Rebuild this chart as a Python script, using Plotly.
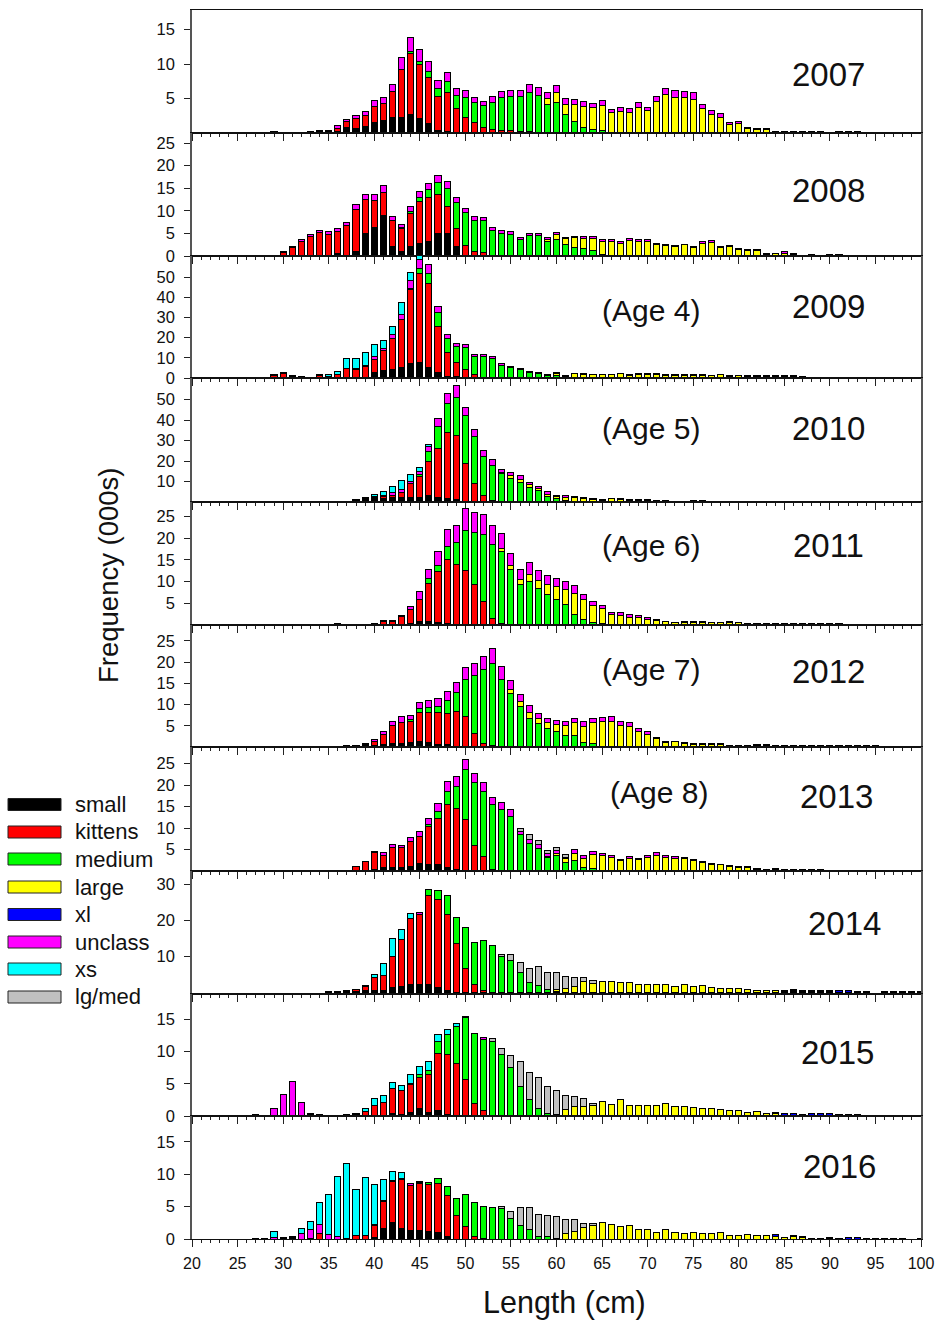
import plotly.graph_objects as go

# Stage names, bottom to top of each stacked bar
SERIES = ["small", "kittens", "medium", "large", "xl", "unclass", "xs", "lg/med"]
COLORS = ["#000000", "#ff0000", "#00ff00", "#ffff00", "#0000ff", "#ff00ff", "#00ffff", "#c0c0c0"]
YEARS = [2007, 2008, 2009, 2010, 2011, 2012, 2013, 2014, 2015, 2016]
AGES = {2009: "(Age 4)", 2010: "(Age 5)", 2011: "(Age 6)", 2012: "(Age 7)", 2013: "(Age 8)"}
X_TICKS = list(range(20, 101, 5))

# Each row: length, then the height read at the top of each stage
# (small, kittens, medium, large, xl, unclass, xs, lg/med); 0 = stage absent.
ROWS_2007 = [
 [29,.2],[31,0,.1],[33,.2],[34,.1,.2,0,0,0,.3],[35,.1,.2,0,0,0,.3],[36,.15,.7,0,0,0,1.05],[37,.75,1.6,0,0,0,2.0],
 [38,.7,2.1,0,0,0,2.55],[39,.9,2.6,0,0,0,3.1],[40,1.5,3.9,0,0,0,4.7],[41,1.75,4.25,0,0,0,5.1],[42,2.2,6.0,0,0,0,7.1],
 [43,2.3,9.2,0,0,0,10.9],[44,2.65,11.45,11.8,0,0,13.9],[45,2.1,9.9,10.4,0,0,12.1],[46,1.35,8.1,8.9,0,0,10.4],
 [47,.3,5.3,6.5,0,0,7.6],[48,.25,5.8,7.5,0,0,8.8],[49,.05,3.6,5.4,0,0,6.4],[50,0,2.2,5.2,0,0,6.1],[51,0,1.5,4.4,0,0,5.2],
 [52,0,.8,4.0,0,0,4.6],[53,0,.5,4.4,0,0,5.3],[54,0,.35,5.1,0,0,6.0],[55,0,.35,5.3,0,0,6.2],[56,0,.15,5.3,0,0,6.2],
 [57,0,.2,5.9,0,0,7.0],[58,0,0,5.4,0,0,6.6],[59,0,0,4.15,5.0,0,5.8],[60,0,0,4.45,5.9,0,6.9],[61,0,0,2.7,4.2,0,5.0],
 [62,0,0,1.65,4.2,0,4.9],[63,0,0,.85,3.8,0,4.5],[64,0,0,.5,3.65,0,4.3],[65,0,0,.35,3.95,0,4.7],[66,0,0,0,2.9,0,3.4],
 [67,0,0,.1,3.05,0,3.65],[68,0,0,0,2.95,0,3.5],[69,0,0,0,3.7,0,4.35],[70,0,0,0,3.2,0,3.75],[71,0,0,0,4.5,0,5.35],
 [72,0,0,0,5.55,0,6.45],[73,0,0,0,5.2,0,6.1],[74,0,0,0,5.1,0,6.0],[75,0,0,0,4.9,0,5.8],[76,0,0,0,3.5,0,4.1],
 [77,0,0,0,2.75,0,3.3],[78,0,0,0,2.3,0,2.8],[79,0,0,0,1.2,0,1.5],[80,0,0,0,1.35,0,1.6],[81,0,0,0,.65,0,.8],
 [82,0,0,0,.45,0,.6],[83,0,0,0,.55,0,.7],[84,0,0,0,.15,0,.25],[85,0,0,0,.15,0,.25],[86,0,0,0,.1,0,.2],[87,0,0,0,.15,0,.25],
 [88,0,0,0,.15,0,.25],[89,0,0,0,.15,0,.25],[91,0,0,0,.1,0,.2],[92,0,0,0,.1,0,.15],[93,0,0,0,.1,0,.15],
]
ROWS_2008 = [
 [30,0,.75,0,0,0,.9],[31,0,1.8,0,0,0,2.05],[32,0,3.3,0,0,0,3.7],[33,0,4.3,0,0,0,4.65],[34,0,5.15,0,0,0,5.6],
 [35,0,4.85,0,0,0,5.4],[36,.5,5.45,0,0,0,6.05],[37,0,6.7,0,0,0,7.4],[38,1.0,10.3,0,0,0,11.3],[39,4.95,12.55,0,0,0,13.7],
 [40,6.35,12.25,0,0,0,13.55],[41,9.0,14.1,0,0,0,15.5],[42,2.15,7.75,0,0,0,8.7],[43,1.0,6.1,6.25,0,0,6.9],
 [44,2.15,9.4,9.9,0,0,10.9],[45,2.8,12.1,13.05,0,0,14.3],[46,3.25,13.05,14.7,0,0,16.1],[47,5.0,13.65,16.2,0,0,17.8],
 [48,5.0,11.0,14.9,0,0,16.4],[49,2.05,6.1,11.9,0,0,13.05],[50,0,2.35,9.6,0,0,10.6],[51,0,.95,7.8,0,0,8.7],[52,0,.75,7.75,0,0,8.6],
 [53,0,0,5.7,0,0,6.4],[54,0,0,4.95,0,0,5.55],[55,0,0,4.8,0,0,5.45],[56,0,0,3.6,0,0,4.05],[57,0,0,4.5,0,0,4.95],
 [58,0,0,4.5,4.6,0,5.0],[59,0,0,3.3,3.7,0,4.0],[60,0,0,3.7,4.65,0,5.3],[61,0,0,2.6,3.85,0,4.2],[62,0,0,1.9,4.0,0,4.35],
 [63,0,0,1.7,3.9,0,4.35],[64,0,0,1.2,3.85,0,4.35],[65,0,0,.35,3.1,0,3.55],[66,0,0,0,3.3,0,3.7],[67,0,0,0,2.8,0,3.1],
 [68,0,0,0,3.4,0,3.85],[69,0,0,0,3.3,0,3.75],[70,0,0,0,3.2,0,3.55],[71,.2,0,0,2.65,0,2.7],[72,0,0,0,2.3,0,2.6],
 [73,0,0,0,2.05,0,2.3],[74,0,0,0,2.45,0,2.65],[75,0,0,0,1.85,0,2.0],[76,0,0,0,2.8,0,3.2],[77,0,0,0,3.0,0,3.4],
 [78,0,0,0,1.9,0,2.1],[79,0,0,0,2.05,0,2.3],[80,0,0,0,1.5,0,1.6],[81,0,0,0,1.25,0,1.4],[82,0,0,0,1.25,0,1.4],
 [83,0,0,0,.4,0,.5],[84,0,0,0,.55,0,.65],[85,0,0,0,.55,0,1.0],[86,0,0,0,.3,0,.65],[88,0,0,0,.1,0,.3],[89,0,0,0,.1,0,.2],
 [90,0,0,0,.1,0,.3],[91,0,0,0,0,.25],[92,0,0,0,.15],[93,0,0,0,.15],[97,0,0,0,0,.2],[100,0,0,0,0,.1],
]
ROWS_2009 = [
 [29,0,1.15,0,0,0,1.7],[30,0,2.15,0,0,0,2.6],[31,0,.5,0,0,0,.8,1.0],[32,0,.2,0,0,0,.5,.8],[33,0,0,0,0,0,0,.4],
 [34,0,1.15,0,0,0,1.8],[35,0,.8,0,0,0,0,1.5],[36,0,1.8,0,0,0,0,3.3],[37,0,4.6,0,0,0,0,9.6],[38,0,4.0,0,0,0,4.6,9.7],
 [39,0,5.9,0,0,0,6.4,12.4],[40,2.8,9.1,9.4,0,0,10.4,16.7],[41,3.8,13.4,0,0,0,14.4,18.5],[42,4.3,19.6,0,0,0,21.3,25.7],
 [43,5.4,28.9,29.2,0,0,31.5,37.3],[44,7.3,43.6,44.2,0,0,48.2,52.3],[45,7.8,51.5,54.3,0,0,58.9,61],[46,5.4,46.9,51.8,0,0,56.4],
 [47,2.5,25.6,32.3,0,0,35.3],[48,.5,12.5,19.6,0,0,21.5],[49,.5,7.8,15.8,0,0,17.3],[50,0,4.0,15.2,0,0,16.5],[51,0,1.8,10.7,0,0,11.7],
 [52,0,.2,10.6,0,0,11.7],[53,0,0,9.7,0,0,10.6],[54,0,0,6.3,0,0,7.1],[55,0,0,5.1,0,0,5.9],[56,0,0,4.0,0,0,4.6],
 [57,0,0,2.6,0,0,3.1],[58,0,0,2.1,0,0,2.5],[59,0,0,1.3,1.65,0,1.8],[60,0,0,1.15,2.0,0,2.6],[61,0,0,.65,1.15,0,1.3],
 [62,0,0,.4,2.0,0,2.2],[63,0,0,.2,1.9,0,2.1],[64,0,0,0,1.8,0,1.9],[65,0,0,0,1.6,0,1.8],[66,0,0,0,1.5,0,1.65],
 [67,0,0,0,2.0,0,2.1],[68,0,0,0,1.2,0,1.5],[69,0,0,0,1.7,0,2.0],[70,0,0,0,1.7,0,2.1],[71,0,0,0,1.8,0,2.1],
 [72,0,0,0,1.4,0,1.65],[73,0,0,0,1.3,0,1.5],[74,0,0,0,1.4,0,1.65],[75,0,0,0,1.3,0,1.5],[76,0,0,0,1.3,0,1.65],
 [77,0,0,0,1.1,0,1.3],[78,0,0,0,1.6,0,1.8],[79,0,0,0,.8,0,1.15],[80,0,0,0,1.0,0,1.3],[81,0,0,0,.9,0,1.15],
 [82,0,0,0,.9,0,1.15],[83,0,0,0,.9,0,1.15],[84,0,0,0,.7,0,1.0],[85,0,0,0,.9,0,1.15],[86,0,0,0,.7,0,1.0],
 [87,0,0,0,.4,0,.6],[88,0,0,0,.2],[89,0,0,0,.3],[90,0,0,0,.3],[91,0,0,0,.3],[92,0,0,0,0,.4],[94,0,0,0,.3],
 [95,0,0,0,0,.4],[96,0,0,0,0,.4],[98,0,0,0,.1],[99,0,0,0,0,.3],[100,0,0,0,.2],
]
ROWS_2010 = [
 [36,.3],[37,.3],[38,1.0],[39,2.1],[40,2.6,0,0,0,0,0,3.7],[41,1.8,2.6,0,0,0,3.0,5.0],[42,2.3,3.4,0,0,0,4.4,7.8],
 [43,2.0,4.7,0,0,0,5.9,10.7],[44,2.4,8.9,0,0,0,10.2,13.5],[45,2.4,12.2,13.5,0,0,15.1,16.7],[46,3.1,19.8,24.7,0,0,27.2,28.1],
 [47,2.3,26.3,36.6,0,0,40.7],[48,1.5,34,48,0,0,53],[49,1.0,32.4,51.2,0,0,56.6],[50,0,19,42,0,0,46.3],[51,0,8.8,31.9,0,0,35.4],
 [52,0,3.4,22.4,0,0,25.2],[53,0,.65,18,0,0,20.7],[54,0,0,13.8,14.6,0,16.1],[55,0,0,11.5,12.8,0,14.5],[56,0,0,9.6,10.9,0,12.7],
 [57,0,0,7.3,8.3,0,9.6],[58,0,0,5.4,6.7,0,7.8],[59,0,0,2.8,3.7,0,5.0],[60,0,0,1.5,2.8,0,3.4],[61,0,0,.65,2.1,0,3.4],
 [62,0,0,.3,2.2,0,2.9],[63,0,0,0,1.7,0,2.0],[64,0,0,0,1.4,0,1.6],[65,0,0,0,.8,0,1.0],[66,0,0,0,1.5,0,1.8],[67,0,0,0,1.3,0,1.6],
 [68,0,0,0,.9,0,1.1],[69,0,0,0,.9,0,1.1],[70,0,0,0,.9,0,1.1],[71,0,0,0,.6,0,.8],[72,0,0,0,.5,0,.65],[73,0,0,0,.3,0,.4],
 [74,0,0,0,.3,0,.4],[75,0,0,0,.4,0,.5],[76,0,0,0,.4,0,.5],[77,0,0,0,.3,0,.4],[78,0,0,0,.3],[79,0,0,0,.3],[80,0,0,0,.2],
 [81,0,0,0,.3],[82,0,0,0,.3],[83,.3],[84,.3],[85,.3],[86,.3],[87,.3],[88,.3],[89,.3],[90,.3],[91,.3],[92,.3],[93,.2],
]
ROWS_2011 = [
 [35,.2],[36,0,.3],[38,.2],[39,.2],[40,.3],[41,.2,.8,0,0,0,1.0],[42,.2,.9,0,0,0,1.15],[43,.2,2.0,0,0,0,2.2],
 [44,.45,3.45,0,0,0,4.2],[45,.7,5.8,0,0,0,7.6],[46,.9,9.6,10.6,0,0,12.7],[47,.6,12.3,13.7,0,0,16.8],[48,.45,15,18.1,0,0,22],
 [49,.1,13.9,18.9,0,0,22.9],[50,0,12.6,21.8,0,0,26.7],[51,0,9.2,21.3,0,0,25.9],[52,0,5.4,20.9,0,0,25.4],[53,0,1.6,18.6,0,0,22.8],
 [54,0,.4,17,17.5,0,21.1],[55,0,0,12.8,13.6,0,16.5],[56,0,0,9.4,10.4,0,12.7],[57,0,0,10,11.7,0,14.4],[58,0,0,8.35,10.2,0,12.5],
 [59,0,0,7,9.4,0,11.4],[60,0,0,5.75,8.8,0,10.8],[61,0,0,4.7,8.1,0,10],[62,0,0,2.5,7.35,0,9],[63,0,0,1.2,5.75,0,7.1],
 [64,0,0,.6,4.4,0,5.5],[65,0,0,.4,3.7,0,4.5],[66,0,0,0,2.3,0,2.85],[67,0,0,0,2.2,0,2.9],[68,0,0,0,1.75,0,2.3],
 [69,0,0,0,1.7,0,2.2],[70,0,0,0,1.3,0,1.75],[71,0,0,0,1.0,0,1.3],[72,0,0,0,.7,0,.85],[73,0,0,0,.5,0,.6],[74,0,0,0,.6,0,.7],
 [75,0,0,0,.6,0,.75],[76,0,0,0,.6,0,.7],[77,0,0,0,.5,0,.6],[78,0,0,0,.5,0,.6],[79,0,0,0,.6,0,.7],[80,0,0,0,.5,0,.6],
 [81,0,0,0,.45],[82,.4],[83,.3],[84,0,0,0,.3],[85,.25],[86,.3],[87,.3],[88,.25],[89,.3],[90,.3],[91,.3],[92,0,0,0,0,.2],[93,0,0,0,0,0,.2],
]
ROWS_2012 = [
 [36,.1],[37,.4],[38,.4],[39,.85],[40,.4,1.4,0,0,0,1.65],[41,.6,3.0,0,0,0,3.6],[42,.85,5.0,0,0,0,6.0],[43,.85,5.7,0,0,0,7.15],
 [44,1.1,6.0,6.5,0,0,7.5],[45,1.25,8.2,9.0,0,0,10.5],[46,1.1,8.15,9.4,0,0,11],[47,.6,8.15,9.6,0,0,11.4],[48,.55,7.9,11,0,0,12.95],
 [49,.1,8.3,12.8,0,0,15.2],[50,0,7.2,15.9,0,0,18.75],[51,0,3.2,16.9,0,0,19.7],[52,0,.85,18.2,0,0,21.3],[53,0,.4,19.7,0,0,23.2],
 [54,0,0,16,0,0,18.9],[55,0,0,12.7,13.6,0,15.7],[56,0,0,9.5,10.6,0,12.4],[57,0,0,6.6,8.1,0,9.65],[58,0,0,5.5,6.75,0,8],
 [59,0,0,4.3,5.7,0,6.75],[60,0,0,3.75,5.2,0,6.35],[61,0,0,2.65,5,0,6],[62,0,0,2.6,5.7,0,6.8],[63,0,0,1,4.85,0,5.9],
 [64,0,0,.8,5.7,0,6.75],[65,0,0,.2,6,0,7],[66,0,0,0,6,0,7.15],[67,0,0,0,5.1,0,6],[68,0,0,0,4.8,0,5.8],[69,0,0,0,3.6,0,4.4],
 [70,0,0,0,3,0,3.7],[71,0,0,0,1.9,0,2.35],[72,0,0,0,1.0,0,1.3],[73,0,0,0,1.2,0,1.4],[74,0,0,0,.8,0,.95],[75,0,0,0,.7,0,.8],
 [76,0,0,0,.7,0,.8],[77,0,0,0,.7,0,.8],[78,0,0,0,.7,0,.85],[79,.3],[80,.25],[81,.45],[82,.55],[83,.55],[84,.4],[85,.35],
 [86,.3],[87,.3],[88,.25],[89,.3],[90,.3],[91,.3],[92,.25],[93,.3],[94,.25],[95,.25],
]
ROWS_2013 = [
 [35,.2],[36,.1],[37,.1],[38,.1,1.15],[39,.2,2.1],[40,.3,4.2,0,0,0,4.65],[41,.7,3.7,0,0,0,4.2],[42,.9,5.5,0,0,0,6.2],
 [43,.8,5.35,0,0,0,5.9],[44,1.15,6.9,0,0,0,7.9],[45,1.8,8.05,0,0,0,9.15],[46,1.6,10.3,10.7,0,0,12.2],[47,1.4,12.25,13.95,0,0,15.65],
 [48,.85,15.35,18.6,0,0,20.7],[49,.3,14.65,19.7,0,0,21.9],[50,0,12,23.5,0,0,26],[51,0,6,20.5,0,0,22.7],[52,0,3.3,18.45,0,0,20.5],
 [53,0,.4,15.35,0,0,17.1],[54,0,.1,14.2,0,0,15.9],[55,0,0,12.7,0,0,14.3],[56,0,0,8.4,0,0,9.3,0,9.9],[57,0,0,6.5,0,0,7.4,0,8.4],
 [58,0,0,5.3,0,0,6.1,0,7],[59,0,0,3.2,3.4,0,4,0,4.7],[60,0,0,3.6,4,0,4.7,0,5.4],[61,0,0,1.9,2.8,0,3.2,0,3.95],
 [62,0,0,2.4,4.1,0,5.1],[63,0,0,.7,2.95,0,3.55],[64,0,0,.6,3.95,0,4.55],[65,0,0,.2,3.55,0,4.1],[66,0,0,0,3.2,0,3.7],
 [67,0,0,0,2.5,0,2.7],[68,0,0,0,2.95,0,3.3],[69,0,0,0,2.7,0,3],[70,0,0,0,3.1,0,3.55],[71,0,0,0,3.65,0,4.2],[72,0,0,0,3.2,0,3.7],
 [73,0,0,0,2.95,0,3.3],[74,0,0,0,2.85,0,3.25],[75,0,0,0,2.4,0,2.75],[76,0,0,0,1.95,0,2.1],[77,0,0,0,1.6,0,1.75],
 [78,0,0,0,1.45,0,1.6],[79,0,0,0,1.1,0,1.25],[80,0,0,0,.8,0,.95],[81,0,0,0,.85,0,1],[82,0,0,0,.45,0,.55],[83,0,0,0,.3,0,.4],
 [84,0,0,0,.45,0,.55],[85,0,0,0,.4],[86,.3],[87,.3],[88,.3],[89,.3],[90,.15],[91,.15],[92,0,0,0,0,.15],[95,.1],[96,.1],[97,0,0,0,0,.15],[99,0,0,0,0,.15],
]
ROWS_2014 = [
 [35,.1],[36,.2],[37,.1,.4],[38,.2,.7],[39,.4,1.6,0,0,0,1.85],[40,.55,3.9,0,0,0,0,4.8],[41,.55,4.6,0,0,0,0,7.8],[42,1.2,10,0,0,0,0,14.9],
 [43,1.6,14.5,0,0,0,0,17.5],[44,2.2,20.5,0,0,0,0,21.7],[45,2.2,21.5,0,0,0,22.1],[46,1.95,26.85,28.5],[47,1.2,25.65,28.2],
 [48,.55,21.6,26.85],[49,0,13.6,20.7],[50,0,6.5,18],[51,0,1.95,13.7],[52,0,.35,14.4],[53,0,0,13],[54,0,0,9.8,0,0,0,0,10.55],
 [55,0,0,8.8,0,0,0,0,10.45],[56,0,0,5.3,0,0,0,0,8.3],[57,0,0,2.6,0,0,0,0,6.6],[58,0,0,1.85,0,0,0,0,7.2],[59,0,0,.8,0,0,0,0,5.55],
 [60,0,0,.1,.75,0,0,0,5.45],[61,0,0,0,1,0,0,0,4.25],[62,0,0,0,1.65,0,0,0,4.05],[63,0,0,0,2.85,0,0,0,4],[64,0,0,0,2.5,0,0,0,3.25],
 [65,0,0,0,2.8,0,0,0,3.05],[66,0,0,0,3],[67,0,0,0,2.7],[68,0,0,0,2.7],[69,0,0,0,2.2],[70,0,0,0,2.2],[71,0,0,0,2.2],[72,0,0,0,1.95],
 [73,0,0,0,1.5],[74,0,0,0,1.95],[75,0,0,0,1.65],[76,0,0,0,1.75],[77,0,0,0,1.2],[78,0,0,0,.95],[79,0,0,0,.95],[80,0,0,0,1.1],
 [81,0,0,0,.65],[82,0,0,0,.45],[83,0,0,0,.45],[84,0,0,0,.45],[85,.4],[86,.65],[87,.55],[88,.4],[89,.3],[90,.4],[91,0,0,0,0,.3],
 [92,0,0,0,0,.3],[93,.2],[94,.1],[96,.15],[97,0,0,0,0,.2],[98,.2],[99,.2],[100,0,0,0,0,.25],
]
ROWS_2015 = [
 [27,.2],[29,0,0,0,0,0,1.2],[30,0,0,0,0,0,3.4],[31,0,0,0,0,0,5.4],[32,0,0,0,0,0,2.07],[33,0,0,0,0,0,.25,.4],[34,.2],[35,.1],[36,.1],
 [37,0,.15,0,0,0,0,.3],[38,0,.25,0,0,0,0,.4],[39,0,.7,0,0,0,0,1.1],[40,0,1.6,0,0,0,0,2.65],[41,0,2.1,0,0,0,0,3.25],
 [42,.45,4.25,0,0,0,0,5.2],[43,.3,4,0,0,0,0,4.8],[44,.6,4.85,5.0,0,0,0,6.4],[45,1.1,5.9,6.4,0,0,0,7.6],[46,.6,6.4,7,0,0,0,8.5],
 [47,.8,9.75,11.6,0,0,0,12.65],[48,.3,9.6,12.6,0,0,0,13.45],[49,0,8.2,13.9,0,0,0,14.3],[50,0,5.6,15.2,0,0,0,15.5],[51,0,2,12.8],
 [52,0,.9,11.8,0,0,12.2],[53,0,0,11.5,0,0,0,0,11.95],[54,0,0,9.6,0,0,0,0,10.5],[55,0,0,7.5,0,0,0,0,9.45],[56,0,0,4.5,0,0,0,0,8.4],
 [57,0,0,2.5,0,0,0,0,6.8],[58,0,0,1.2,0,0,0,0,6],[59,0,0,.4,.45,0,0,0,4.6],[60,0,0,0,.25,0,0,0,3.9],[61,0,0,0,.95,0,0,0,3.25],
 [62,0,0,0,1.45,0,0,0,3.05],[63,0,0,0,1.55,0,0,0,2.65],[64,0,0,0,1.7,0,0,0,2],[65,0,0,0,2.3],[66,0,0,0,1.85],[67,0,0,0,2.5],
 [68,0,0,0,1.7],[69,0,0,0,1.7],[70,0,0,0,1.6],[71,0,0,0,1.6],[72,0,0,0,1.9],[73,0,0,0,1.55],[74,0,0,0,1.55],[75,0,0,0,1.25],
 [76,0,0,0,1.2],[77,0,0,0,1.15],[78,0,0,0,1],[79,0,0,0,.85],[80,0,0,0,.85],[81,0,0,0,.55],[82,0,0,0,.65],[83,0,0,0,.35],
 [84,0,0,0,.4,.55],[85,0,0,0,.1,.4],[86,0,0,0,.1,.45],[87,0,0,0,0,.3],[88,0,0,0,0,.35],[89,0,0,0,0,.35],[90,0,0,0,0,.35],
 [91,0,0,0,0,.3],[92,0,0,0,0,.25],[93,0,0,0,0,.2],[94,.1],[95,.1],[96,.1],[97,.1],[98,.1],[99,.1],[100,0,0,0,0,.15],
]
ROWS_2016 = [
 [27,.1],[28,.15],[29,0,0,0,0,0,.2,1.2],[30,.25],[31,0,.1,0,0,0,.3,.45],[32,0,0,0,0,0,.8,1.7],[33,0,.1,0,0,0,1.45,2.7],
 [34,0,.9,0,0,0,2.3,5.7],[35,0,0,0,0,0,.65,6.9],[36,0,0,0,0,0,.35,9.6],[37,0,.05,0,0,0,0,11.6],[38,0,.55,0,0,0,0,7.7],
 [39,0,.5,0,0,0,0,9.5],[40,.3,2.15,0,0,0,2.25,8.45],[41,1.7,5.75,0,0,0,5.9,9.2],[42,2.6,8.9,0,0,0,9.0,10.45],[43,1.55,9.2,9.3,0,0,0,10.3],
 [44,1.35,8.3,0,0,0,8.65],[45,1.35,8.6,8.7,0,0,8.9],[46,1.1,8.5,8.7,0,0,8.8],[47,.95,8.65,9.3],[48,.4,6.75,8.15],[49,0,3.7,6.3],
 [50,0,2,6.9],[51,0,.4,5.6],[52,0,.1,5.05],[53,0,0,4.85],[54,0,0,4.7,0,0,0,0,5.05],[55,0,0,3.15,0,0,0,0,4.3],[56,0,0,2.1,0,0,0,0,4.9],
 [57,0,0,1.45,0,0,0,0,4.8],[58,0,0,.45,0,0,0,0,3.75],[59,0,0,.35,0,0,0,0,3.7],[60,0,0,.1,0,0,0,0,3.45],[61,0,0,0,.8,0,0,0,3],
 [62,0,0,0,1.2,0,0,0,3],[63,0,0,0,1.75,0,0,0,2.4],[64,0,0,0,2.1,0,0,0,2.45],[65,0,0,0,2.6],[66,0,0,0,2.2],[67,0,0,0,1.9],
 [68,0,0,0,2.1],[69,0,0,0,1.45],[70,0,0,0,1.4],[71,0,0,0,1.05],[72,0,0,0,1.4],[73,0,0,0,1.05],[74,0,0,0,.8],[75,0,0,0,1],
 [76,0,0,0,.85],[77,0,0,0,.85],[78,0,0,0,1],[79,0,0,0,.5],[80,0,0,0,.5],[81,0,0,0,.7],[82,0,0,0,.6],[83,0,0,0,.5],[84,0,0,0,.45,.7],
 [85,0,0,0,.3],[86,0,0,0,.4,.55],[87,0,0,0,.2,.4],[88,.15],[89,.15],[90,.2],[91,.15],[92,0,0,0,0,.2],[93,0,0,0,0,.2],[94,.1],[95,.1],[96,.1],[97,.05],[98,.1],[100,.05],
]
ROWS = {2007: ROWS_2007, 2008: ROWS_2008, 2009: ROWS_2009, 2010: ROWS_2010, 2011: ROWS_2011,
        2012: ROWS_2012, 2013: ROWS_2013, 2014: ROWS_2014, 2015: ROWS_2015, 2016: ROWS_2016}

Y_TICKS = {2007: [5, 10, 15], 2008: [0, 5, 10, 15, 20, 25], 2009: [0, 10, 20, 30, 40, 50], 2010: [10, 20, 30, 40, 50],
           2011: [5, 10, 15, 20, 25], 2012: [5, 10, 15, 20, 25], 2013: [5, 10, 15, 20, 25], 2014: [10, 20, 30],
           2015: [0, 5, 10, 15], 2016: [0, 5, 10, 15]}

# Layout (pixels): panel top, bottom, px per unit, px of value 0 above panel bottom
W, H = 937, 1320
LEFT, RIGHT = 192, 921
PANELS = {2007: (10, 133, 6.9, 0), 2008: (133, 256, 4.52, 0), 2009: (256, 378, 2.02, 0), 2010: (378, 502, 2.05, 0),
          2011: (502, 625, 4.35, 0), 2012: (625, 747, 4.25, 0), 2013: (747, 871, 4.3, 0), 2014: (871, 994, 3.6, 2),
          2015: (994, 1116, 6.45, 0), 2016: (1116, 1239, 6.47, 0)}
YEAR_POS = {2007: (828, 75), 2008: (828, 191), 2009: (828, 306), 2010: (828, 429), 2011: (828, 546),
            2012: (828, 671), 2013: (836, 796), 2014: (844, 924), 2015: (837, 1052), 2016: (839, 1166)}
AGE_POS = {2009: (651, 310), 2010: (651, 429), 2011: (651, 546), 2012: (651, 669), 2013: (659, 793)}
LEGEND_Y = [804.5, 832, 859, 887, 914.5, 942, 969, 997]
FONT = "Liberation Sans, Arial, sans-serif"
INK = "#222222"


def px(x):
    return x / W


def py(y):
    return 1 - y / H


def segments(rows):
    """Turn tops read per bar into per-stage heights."""
    lengths = [r[0] for r in rows]
    out = [[] for _ in SERIES]
    for r in rows:
        tops = list(r[1:]) + [0] * (len(SERIES) - len(r) + 1)
        running = 0
        for i, t in enumerate(tops):
            if t > running:
                out[i].append(round(t - running, 3))
                running = t
            else:
                out[i].append(None)
    return lengths, out


fig = go.Figure()
layout = {}
for n, year in enumerate(YEARS):
    suffix = "" if n == 0 else str(n + 1)
    top, bottom, scale, zero = PANELS[year]
    lengths, stages = segments(ROWS[year])
    for name, color, vals in zip(SERIES, COLORS, stages):
        fig.add_trace(go.Bar(x=lengths, y=vals, name=name, marker=dict(color=color, line=dict(color="black", width=1)),
                             xaxis="x" + suffix, yaxis="y" + suffix, showlegend=False))
    last = year == YEARS[-1]
    layout["xaxis" + suffix] = dict(
        domain=[px(LEFT), px(RIGHT)], range=[20, 100], anchor="y" + suffix, showgrid=False, zeroline=False, automargin=False,
        showline=True, linecolor="#111111", linewidth=1, mirror=True,
        tickmode="array", tickvals=X_TICKS, ticks="outside", ticklen=7, tickcolor=INK, tickwidth=1,
        showticklabels=last, tickfont=dict(family=FONT, size=16, color="#111111"), ticklabelstandoff=3,
        minor=dict(dtick=1, tick0=20, ticks="outside", ticklen=3, tickcolor=INK, tickwidth=1, showgrid=False),
    )
    layout["yaxis" + suffix] = dict(
        domain=[py(bottom), py(top)], range=[-zero / scale, (bottom - top - zero) / scale], anchor="x" + suffix,
        showgrid=False, zeroline=False, showline=True, linecolor="#555555", linewidth=1.5, mirror=True, automargin=False,
        tickmode="array", tickvals=Y_TICKS[year], ticks="outside", ticklen=6, tickcolor=INK, tickwidth=1,
        tickfont=dict(family=FONT, size=16.5, color="#111111"), ticklabelstandoff=6,
    )

ann = []
shapes = []
for year, (x, y) in YEAR_POS.items():
    ann.append(dict(x=px(x), y=py(y), text=str(year), font=dict(size=33, color="#111111", family=FONT),
                    xref="paper", yref="paper", showarrow=False, xanchor="center", yanchor="middle"))
for year, (x, y) in AGE_POS.items():
    ann.append(dict(x=px(x), y=py(y), text=AGES[year], font=dict(size=30, color="#111111", family=FONT),
                    xref="paper", yref="paper", showarrow=False, xanchor="center", yanchor="middle"))
ann.append(dict(x=px(109), y=py(575), text="Frequency (000s)", textangle=-90, font=dict(size=27.5, color="#111111", family=FONT),
                xref="paper", yref="paper", showarrow=False, xanchor="center", yanchor="middle"))
ann.append(dict(x=px(564), y=py(1302), text="Length (cm)", font=dict(size=30.5, color="#111111", family=FONT),
                xref="paper", yref="paper", showarrow=False, xanchor="center", yanchor="middle"))
for name, color, y in zip(SERIES, COLORS, LEGEND_Y):
    shapes.append(dict(type="rect", xref="paper", yref="paper", x0=px(8), x1=px(61), y0=py(y - 6), y1=py(y + 6),
                       fillcolor=color, line=dict(color="#222222", width=1)))
    ann.append(dict(x=px(73), y=py(y), text=name, font=dict(size=22, color="#111111", family=FONT),
                    xref="paper", yref="paper", showarrow=False, xanchor="left", yanchor="middle"))

fig.update_layout(width=W, height=H, margin=dict(l=0, r=0, t=0, b=0, pad=0), paper_bgcolor="white", plot_bgcolor="white",
                  barmode="stack", bargap=0.33, showlegend=False, annotations=ann, shapes=shapes, font=dict(family=FONT),
                  **layout)
fig.write_html("out.html", config={"displayModeBar": False},
               post_script="document.body.style.margin='0';document.body.style.overflow='hidden';")
